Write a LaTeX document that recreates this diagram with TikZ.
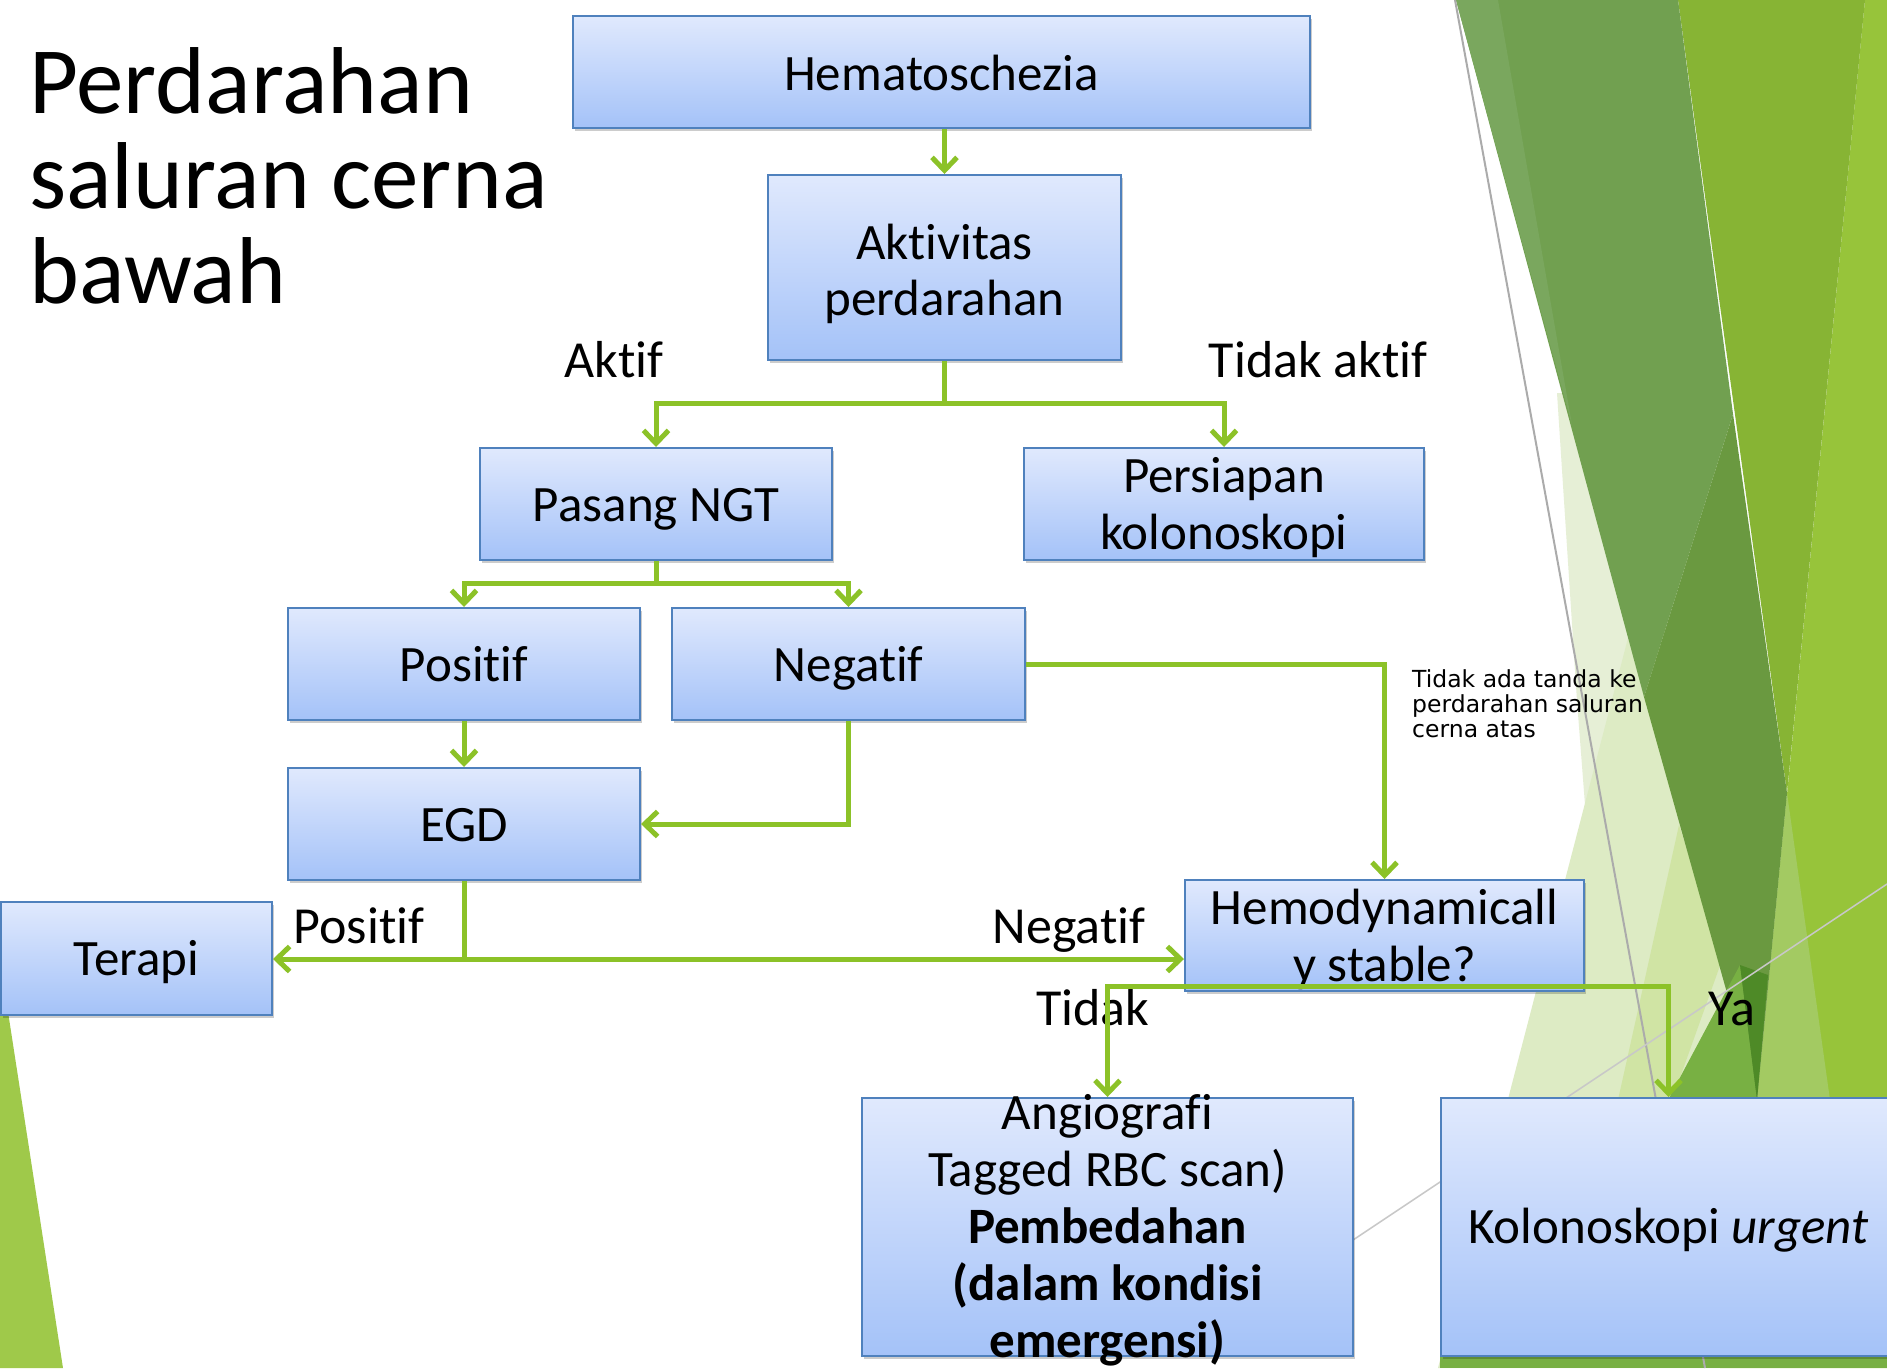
\documentclass[tikz,border=0pt]{standalone}
\usepackage{fontspec}
\setmainfont{Carlito}[Ligatures={NoCommon,NoContextual}]
\newfontfamily\notefont{DejaVu Sans}
\usetikzlibrary{arrows.meta,shadows}
\definecolor{boxtop}{RGB}{224,233,253}
\definecolor{boxbot}{RGB}{164,194,248}
\definecolor{boxline}{RGB}{79,129,189}
\definecolor{flowgreen}{RGB}{140,194,40}
\definecolor{bgbright}{RGB}{151,196,58}
\definecolor{bgyellow}{RGB}{135,180,52}
\definecolor{bgolive}{RGB}{113,160,80}
\definecolor{bgdolive}{RGB}{106,153,64}
\definecolor{bglolive}{RGB}{122,167,94}
\definecolor{bgpale}{RGB}{221,235,196}
\definecolor{bgpaleA}{RGB}{230,239,214}
\definecolor{bgpaleB}{RGB}{208,228,164}
\definecolor{bgmed}{RGB}{120,176,67}
\definecolor{bgdark}{RGB}{78,138,39}
\definecolor{bglight}{RGB}{163,202,98}
\definecolor{bgleft}{RGB}{159,201,74}
\tikzset{
  box/.style={draw=boxline, line width=2pt, top color=boxtop, bottom color=boxbot, inner sep=0pt,
    drop shadow={shadow xshift=2pt, shadow yshift=-3pt, fill=black, opacity=0.2}},
  txt/.style={font=\fontsize{51}{57}\selectfont, inner sep=0pt, anchor=base},
  lbl/.style={font=\fontsize{52}{57}\selectfont, inner sep=0pt, anchor=base},
  ttl/.style={font=\fontsize{95}{95}\selectfont, inner sep=0pt, anchor=base west},
  note/.style={font=\notefont\fontsize{23.5}{25}\selectfont, inner sep=0pt, anchor=base west},
  flow/.style={draw=flowgreen, line width=5pt, -{Straight Barb[length=13pt,width=25pt]}},
  flowline/.style={draw=flowgreen, line width=5pt},
}
\begin{document}
\begin{tikzpicture}[x=1pt,y=-1pt]
\useasboundingbox (0,0) rectangle (1887,1368);
\fill[white] (0,0) rectangle (1887,1368);
% background facets
\fill[bgbright] (1865,0) -- (1887,0) -- (1887,1368) -- (1720,1368) -- (1757,1100) -- cycle;
\fill[bgyellow] (1678,0) -- (1865,0) -- (1787,793) -- cycle;
\fill[bglight] (1787,793) -- (1830,1100) -- (1757,1100) -- cycle;
\fill[bgpaleA] (1557,393) -- (1620,393) -- (1757,1100) -- (1600,1000) -- (1577,701) -- cycle;
\fill[bgpale] (1628,638) -- (1757,1100) -- (1720,1368) -- (1438,1368) -- cycle;
\fill[bgpaleB] (1679,825) -- (1722,960) -- (1672,1100) -- (1618,1100) -- cycle;
\fill[bgolive] (1456,0) -- (1678,0) -- (1733,414) -- (1644,697) -- cycle;
\fill[bgdolive] (1644,697) -- (1733,414) -- (1787,793) -- (1757,1100) -- cycle;
\fill[bglolive] (1456,0) -- (1498,0) -- (1572,425) -- cycle;
\fill[bgmed] (1668,1100) -- (1740,965) -- (1757,1100) -- cycle;
\fill[bgdark] (1740,965) -- (1768,975) -- (1757,1100) -- cycle;
\fill[bgmed] (1440,1356) -- (1887,1356) -- (1887,1368) -- (1440,1368) -- cycle;
\fill[bgleft] (0,960) -- (63,1368) -- (0,1368) -- cycle;
\draw[color={rgb,255:red,171;green,171;blue,171}, line width=2pt] (1455,0) -- (1705,1368);
\draw[color={rgb,255:red,200;green,200;blue,200}, line width=1.5pt] (1290,1282) -- (1887,884);
% title
\node[ttl] (t1) at (29,113) {Perdarahan};
\node[ttl] (t2) at (29,208) {saluran cerna};
\node[ttl] (t3) at (29,303) {bawah};
% boxes
\node[box, minimum width=737pt, minimum height=112pt] (hem) at (941.5,72) {};
\node[box, minimum width=353pt, minimum height=185pt] (akt) at (944.5,267.5) {};
\node[box, minimum width=352pt, minimum height=112pt] (ngt) at (656,504) {};
\node[box, minimum width=400pt, minimum height=112pt] (per) at (1224,504) {};
\node[box, minimum width=352pt, minimum height=112pt] (pos) at (464,664) {};
\node[box, minimum width=353pt, minimum height=112pt] (neg) at (848.5,664) {};
\node[box, minimum width=352pt, minimum height=112pt] (egd) at (464,824) {};
\node[box, minimum width=271pt, minimum height=113pt] (ter) at (136.5,958.5) {};
\node[box, minimum width=399pt, minimum height=111pt] (hmd) at (1384.5,935.5) {};
\node[box, minimum width=491pt, minimum height=258pt] (ang) at (1107.5,1227) {};
\node[box, minimum width=455pt, minimum height=258pt] (kol) at (1668.5,1227) {};
% box texts
\node[txt] (hem-t) at (941.5,90) {Hematoschezia};
\node[txt] (akt-t1) at (944.5,259) {Aktivitas};
\node[txt] (akt-t2) at (944.5,315) {perdarahan};
\node[txt] (ngt-t) at (656,521) {Pasang NGT};
\node[txt] (per-t1) at (1224,492) {Persiapan};
\node[txt] (per-t2) at (1224,549) {kolonoskopi};
\node[txt] (pos-t) at (464,681) {Positif};
\node[txt] (neg-t) at (848.5,681) {Negatif};
\node[txt] (egd-t) at (464,841) {EGD};
\node[txt] (ter-t) at (136.5,975) {Terapi};
\node[txt] (hmd-t1) at (1384.5,924) {Hemodynamicall};
\node[txt] (hmd-t2) at (1384.5,981) {y stable?};
\node[txt] (ang-t1) at (1107.5,1129) {Angiografi};
\node[txt] (ang-t2) at (1107.5,1186) {Tagged RBC scan)};
\node[txt] (ang-t3) at (1107.5,1243) {\bfseries Pembedahan};
\node[txt] (ang-t4) at (1107.5,1300) {\bfseries (dalam kondisi};
\node[txt] (ang-t5) at (1107.5,1357) {\bfseries emergensi)};
\node[txt] (kol-t) at (1668.5,1243) {Kolonoskopi \textit{urgent}};
% labels
\node[lbl] (l-aktif) at (614,377) {Aktif};
\node[lbl] (l-tdkaktif) at (1318,377) {Tidak aktif};
\node[lbl] (l-pos) at (359,943) {Positif};
\node[lbl] (l-neg) at (1069,943) {Negatif};
\node[lbl] (l-tidak) at (1093,1025) {Tidak};
\node[lbl] (l-ya) at (1732,1025) {Ya};
\node[note] (n1) at (1412,687) {Tidak ada tanda ke};
\node[note] (n2) at (1412,712) {perdarahan saluran};
\node[note] (n3) at (1412,737) {cerna atas};
% connectors
\coordinate (br1) at (944.5,403);
\coordinate (br2) at (656,583);
\coordinate (br3) at (464,959);
\coordinate (br4) at (1384.5,986);
\draw[flow] (hem.south -| akt.north) -- (akt.north);
\draw[flowline] (akt.south) -- (br1);
\draw[flow] (br1) -| (ngt.north);
\draw[flow] (br1) -| (per.north);
\draw[flowline] (ngt.south) -- (br2);
\draw[flow] (br2) -| (pos.north);
\draw[flow] (br2) -| (neg.north);
\draw[flow] (pos.south) -- (egd.north);
\draw[flow] (neg.south) |- (egd.east);
\draw[flow] (neg.east) -| (hmd.north);
\draw[flowline] (egd.south) -- (br3);
\draw[flow] (br3) -- (br3 -| ter.east);
\draw[flow] (br3) -- (br3 -| hmd.west);
\draw[flow] (br4) -| (ang.north);
\draw[flow] (br4) -| (kol.north);
\end{tikzpicture}
\end{document}
